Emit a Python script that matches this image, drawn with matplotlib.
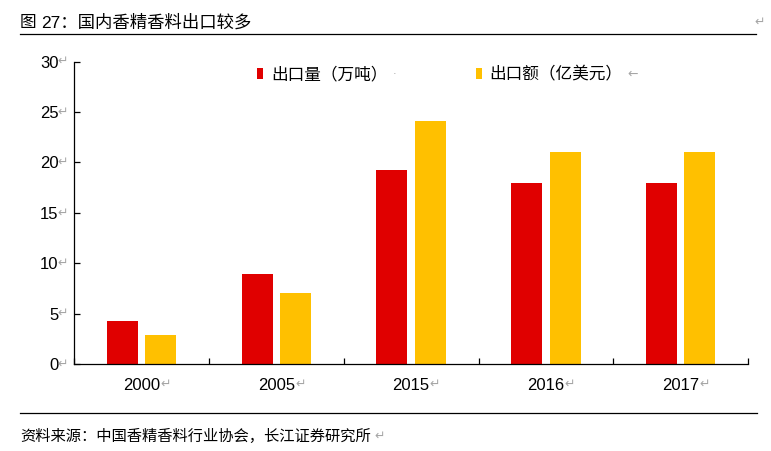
import matplotlib
matplotlib.use("Agg")
import matplotlib.pyplot as plt
from matplotlib.patches import Patch
import numpy as np

plt.rcParams['font.family'] = ['Liberation Sans', 'Noto Sans CJK SC', 'DejaVu Sans']

categories = ['2000', '2005', '2015', '2016', '2017']
volume = [4.3, 8.9, 19.2, 18.0, 18.0]      # 出口量（万吨）
value = [2.9, 7.0, 24.1, 21.0, 21.0]       # 出口额（亿美元）
yticks = [0, 5, 10, 15, 20, 25, 30]
series_names = ['出口量（万吨）', '出口额（亿美元）']
title_prefix = '图'
title_main = '27：国内香精香料出口较多'
source = '资料来源：中国香精香料行业协会，长江证券研究所'

RED = '#E00000'
YEL = '#FFC000'
GREY = '#A6A6A6'

W, H = 771, 451
fig = plt.figure(figsize=(W / 100, H / 100), dpi=100)

def fx(px):
    return px / W

def fy(py):
    return 1 - py / H

ax = fig.add_axes([fx(74.3), fy(364), fx(748) - fx(74.3), fy(61.5) - fy(364)])

x = np.arange(len(categories))
off, bw = 0.143, 0.23
ax.bar(x - off, volume, width=bw, color=RED, label=series_names[0])
ax.bar(x + off, value, width=bw, color=YEL, label=series_names[1])

ax.set_xlim(-0.5, len(categories) - 0.5)
ax.set_ylim(0, 30)
for s in ['top', 'right']:
    ax.spines[s].set_visible(False)
for s in ['left', 'bottom']:
    ax.spines[s].set_linewidth(0.9)
    ax.spines[s].set_color('black')

ax.set_yticks(yticks)
ax.set_yticklabels([str(v) for v in yticks], fontsize=12)
ax.tick_params(axis='y', direction='in', length=4, width=0.9, pad=11.5)

ax.set_xticks(x)
ax.set_xticklabels(categories, fontsize=12)
ax.tick_params(axis='x', which='major', length=0, pad=10)
ax.set_xticks(np.arange(len(categories) + 1) - 0.5, minor=True)
ax.tick_params(axis='x', which='minor', direction='in', length=4.5, width=0.9)

# paragraph marks next to tick labels
for v in yticks:
    ax.annotate('↵', xy=(0, v), xycoords=ax.get_yaxis_transform(),
                xytext=(-12, 0), textcoords='offset points',
                ha='left', va='center', fontsize=9, color=GREY,
                family='DejaVu Sans')
for i in x:
    ax.annotate('↵', xy=(i, 0), xycoords=ax.get_xaxis_transform(),
                xytext=(13.5, -14.5), textcoords='offset points',
                ha='left', va='center', fontsize=9, color=GREY,
                family='DejaVu Sans')

# legend
handles = [Patch(facecolor=RED, edgecolor='none'), Patch(facecolor=YEL, edgecolor='none')]
leg = fig.legend(handles, series_names, loc='center left',
                 bbox_to_anchor=(fx(257), fy(74.5)), ncol=2, frameon=False,
                 handlelength=0.38, handleheight=0.62,
                 handletextpad=0.45, columnspacing=5.3, borderpad=0,
                 borderaxespad=0, prop={'family': ['Noto Sans CJK SC'], 'size': 12})
fig.text(fx(393), fy(74), '·', fontsize=8, color=GREY, ha='left', va='center',
         family='DejaVu Sans')
fig.text(fx(627), fy(74), '←', fontsize=9, color=GREY, ha='left', va='center',
         family='DejaVu Sans')

# title and underline
fig.text(fx(20), fy(22), title_prefix, fontsize=12, ha='left', va='center',
         family=['Noto Sans CJK SC'])
fig.text(fx(41), fy(22), title_main, fontsize=12.5, ha='left', va='center',
         family=['Liberation Sans', 'Noto Sans CJK SC'])
fig.text(fx(754), fy(22), '↵', fontsize=9, color=GREY, ha='left', va='center',
         family='DejaVu Sans')
fig.add_artist(plt.Line2D([fx(20), fx(756)], [fy(34), fy(34)], color='black', lw=0.9))

# source line and text
fig.add_artist(plt.Line2D([fx(20), fx(757)], [fy(413), fy(413)], color='black', lw=0.9))
fig.text(fx(20), fy(436), source, fontsize=11, ha='left', va='center',
         family=['Noto Sans CJK SC'])
fig.text(fx(374), fy(436), '↵', fontsize=9, color=GREY, ha='left', va='center',
         family='DejaVu Sans')

fig.savefig('out.png', dpi=100)
